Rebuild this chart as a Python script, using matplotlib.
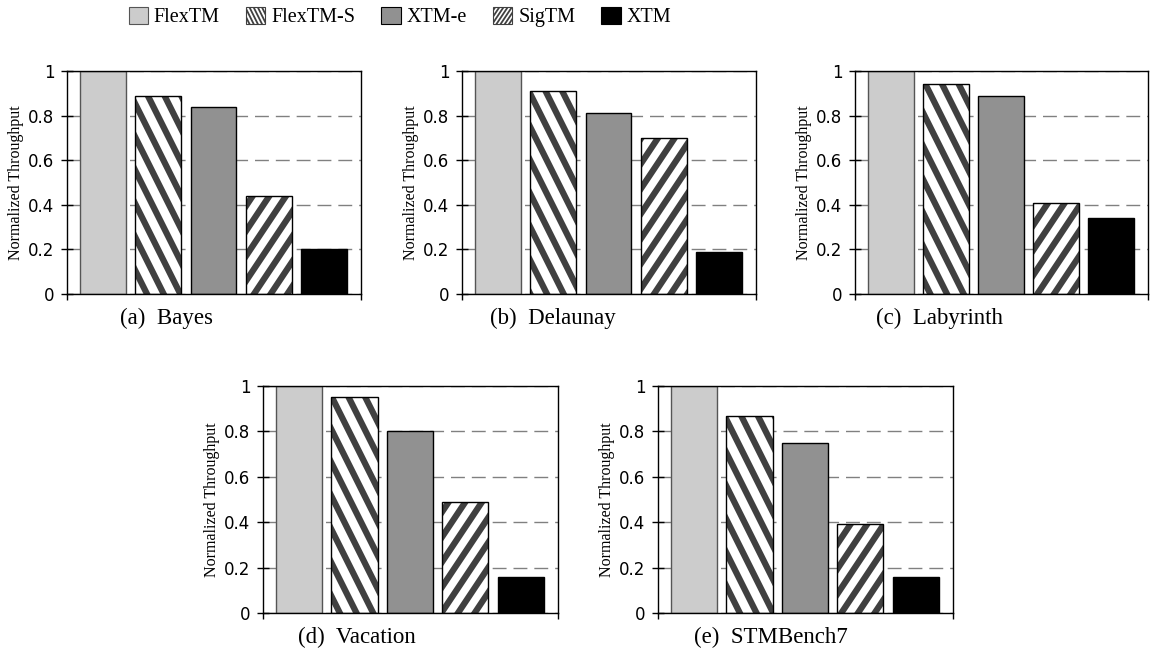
import numpy as np
import matplotlib
matplotlib.use('Agg')
import matplotlib.pyplot as plt
import matplotlib.hatch as mhatch
import matplotlib.patches as mpatches
from matplotlib.path import Path

systems = ['FlexTM', 'FlexTM-S', 'XTM-e', 'SigTM', 'XTM']
bayes = [1.0, 0.89, 0.84, 0.44, 0.20]
delaunay = [1.0, 0.91, 0.81, 0.70, 0.19]
labyrinth = [1.0, 0.94, 0.89, 0.41, 0.34]
vacation = [1.0, 0.95, 0.80, 0.49, 0.16]
stmbench7 = [1.0, 0.87, 0.75, 0.39, 0.16]
captions = ['(a)  Bayes', '(b)  Delaunay', '(c)  Labyrinth', '(d)  Vacation', '(e)  STMBench7']
yticks = [0, 0.2, 0.4, 0.6, 0.8, 1]
ytick_labels = ['0', '0.2', '0.4', '0.6', '0.8', '1']


# steeper stripes than the stock 45 degree hatches
class FallingStripes(mhatch.HatchPatternBase):
    # '\' -> lines 2x + y = c
    def __init__(self, hatch, density):
        n = hatch.count('\\')
        self.offsets = np.arange(-3 * n, 12 * n + 1) / (3.0 * n) if n else []
        self.num_lines = len(self.offsets)
        self.num_vertices = self.num_lines * 2

    def set_vertices_and_codes(self, vertices, codes):
        y0, y1 = -0.5, 1.5
        for i, c in enumerate(self.offsets):
            vertices[2 * i] = ((c - y0) / 2.0, y0)
            vertices[2 * i + 1] = ((c - y1) / 2.0, y1)
        codes[0::2] = Path.MOVETO
        codes[1::2] = Path.LINETO


class RisingStripes(mhatch.HatchPatternBase):
    # '/' -> lines 3x - 2y = c
    def __init__(self, hatch, density):
        n = hatch.count('/')
        self.offsets = np.arange(-4 * 2 * n, 5 * 2 * n + 1) / (2.0 * n) if n else []
        self.num_lines = len(self.offsets)
        self.num_vertices = self.num_lines * 2

    def set_vertices_and_codes(self, vertices, codes):
        y0, y1 = -0.5, 1.5
        for i, c in enumerate(self.offsets):
            vertices[2 * i] = ((c + 2 * y0) / 3.0, y0)
            vertices[2 * i + 1] = ((c + 2 * y1) / 3.0, y1)
        codes[0::2] = Path.MOVETO
        codes[1::2] = Path.LINETO


mhatch._hatch_types = [t for t in mhatch._hatch_types
                       if t not in (mhatch.NorthEastHatch, mhatch.SouthEastHatch)]
mhatch._hatch_types += [FallingStripes, RisingStripes]

plt.rcParams['hatch.linewidth'] = 4.5
serif = ['Liberation Serif', 'DejaVu Serif']

faces = ['#cccccc', 'white', '#919191', 'white', 'black']
hatches = [None, '\\', None, '/', None]
edges = ['#555555', 'black', 'black', 'black', 'black']

W, H = 1150, 656
fig = plt.figure(figsize=(11.5, 6.56), dpi=100)

# axes boxes in pixels: left, top, right, bottom
boxes = [(67, 71, 361, 294), (462, 71, 756, 294), (855, 71, 1148, 294),
         (263, 386, 558, 613), (658, 386, 953, 613)]
cap_pos = [(166, 318), (553, 318), (939, 318), (357, 637), (771, 637)]
data = [bayes, delaunay, labyrinth, vacation, stmbench7]

x = np.arange(len(systems))
for vals, box, cap, cp in zip(data, boxes, captions, cap_pos):
    l, t, r, b = box
    ax = fig.add_axes([l / W, 1 - b / H, (r - l) / W, (b - t) / H])
    for i in range(len(systems)):
        if hatches[i]:
            ax.bar(x[i], vals[i], 0.83, color=faces[i], edgecolor='#404040',
                   linewidth=0, hatch=hatches[i], zorder=2)
            ax.bar(x[i], vals[i], 0.83, fill=False, edgecolor='black',
                   linewidth=1, zorder=3)
        else:
            ax.bar(x[i], vals[i], 0.83, color=faces[i], edgecolor=edges[i],
                   linewidth=1, zorder=2)
    ax.set_xlim(-0.65, 4.67)
    ax.set_ylim(0, 1)
    ax.set_yticks(yticks)
    ax.set_yticklabels(ytick_labels, fontsize=12)
    ax.set_xticks([-0.65, 4.67])
    ax.set_xticklabels(['', ''])
    ax.tick_params(axis='y', direction='inout', length=8, width=1, pad=5)
    ax.tick_params(axis='x', direction='out', length=4, width=1)
    ax.yaxis.grid(True, color='#808080', linestyle=(0, (10, 5)), linewidth=1)
    ax.set_axisbelow(True)
    for s in ax.spines.values():
        s.set_color('black')
        s.set_linewidth(1)
    ax.set_ylabel('Normalized Throughput', family=serif, fontsize=11.5, labelpad=3)
    fig.text(cp[0] / W, 1 - cp[1] / H, cap, family=serif, fontsize=16.5,
             ha='center', va='center')

handles = [mpatches.Patch(facecolor=faces[i], edgecolor='#404040' if hatches[i] else edges[i],
                          linewidth=0.8, hatch=(hatches[i] * 4 if hatches[i] else None),
                          label=systems[i]) for i in range(len(systems))]
leg = fig.legend(handles=handles, loc='center', bbox_to_anchor=(400 / W, 1 - 17 / H),
                 ncol=5, frameon=False, prop={'family': serif, 'size': 14.5},
                 handlelength=0.95, handleheight=0.95, handletextpad=0.3,
                 columnspacing=1.3)
for p in leg.get_patches():
    if hasattr(p, 'set_hatch_linewidth'):
        p.set_hatch_linewidth(1.3)

fig.savefig('out.png', dpi=100)
